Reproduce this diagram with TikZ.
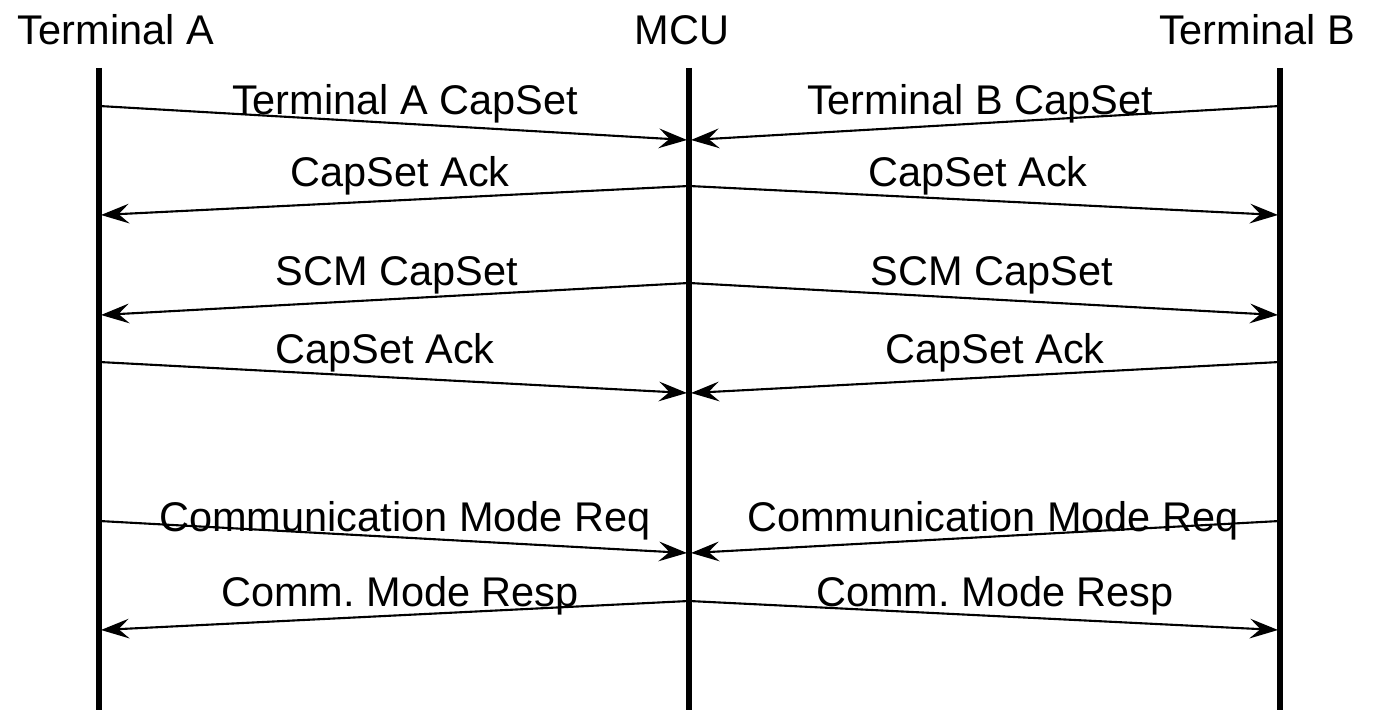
\documentclass[tikz,border=0pt]{standalone}
\usepackage{fontspec}
\setmainfont{Liberation Sans}
\usetikzlibrary{arrows.meta}
\frenchspacing
\begin{document}
\begin{tikzpicture}[x=0.01cm,y=-0.01cm,
  lbl/.style={font=\fontsize{11.8pt}{14pt}\selectfont,anchor=base,inner sep=0pt},
  life/.style={line width=1.5pt},
  msg/.style={line width=0.6pt,-{Stealth[length=8pt,width=5.6pt,inset=3pt]}}]
\useasboundingbox (0,0) rectangle (1378,710);
% headers
\node[lbl] (hA) at (116,45) {Terminal A};
\node[lbl] (hM) at (682,45) {MCU};
\node[lbl] (hB) at (1257,45) {Terminal B};
% lifelines
\coordinate (At) at (99,68);  \coordinate (Ab) at (99,710);
\coordinate (Mt) at (689,68); \coordinate (Mb) at (689,710);
\coordinate (Bt) at (1280,68);\coordinate (Bb) at (1280,710);
\draw[life] (At) -- (Ab);
\draw[life] (Mt) -- (Mb);
\draw[life] (Bt) -- (Bb);
% message end points
\coordinate (a1) at (99,106);  \coordinate (m1l) at (687,140); \coordinate (m1r) at (691,140); \coordinate (b1) at (1280,106);
\coordinate (m2) at (689,186); \coordinate (a2) at (101,215);  \coordinate (b2) at (1278,215);
\coordinate (m3) at (689,283); \coordinate (a3) at (101,315);  \coordinate (b3) at (1278,315);
\coordinate (a4) at (99,362);  \coordinate (m4l) at (687,393); \coordinate (m4r) at (691,393); \coordinate (b4) at (1280,362);
\coordinate (a5) at (99,521);  \coordinate (m5l) at (687,553); \coordinate (m5r) at (691,553); \coordinate (b5) at (1280,521);
\coordinate (m6) at (689,601); \coordinate (a6) at (101,630);  \coordinate (b6) at (1278,630);
% messages
\draw[msg] (a1) -- (m1l);
\draw[msg] (b1) -- (m1r);
\draw[msg] (m2) -- (a2);
\draw[msg] (m2) -- (b2);
\draw[msg] (m3) -- (a3);
\draw[msg] (m3) -- (b3);
\draw[msg] (a4) -- (m4l);
\draw[msg] (b4) -- (m4r);
\draw[msg] (a5) -- (m5l);
\draw[msg] (b5) -- (m5r);
\draw[msg] (m6) -- (a6);
\draw[msg] (m6) -- (b6);
% labels
\node[lbl] (l1a) at (405,115) {Terminal A CapSet};
\node[lbl] (l1b) at (980,115) {Terminal B CapSet};
\node[lbl] (l2a) at (400,187) {CapSet Ack};
\node[lbl] (l2b) at (978,187) {CapSet Ack};
\node[lbl] (l3a) at (397,286) {SCM CapSet};
\node[lbl] (l3b) at (992,286) {SCM CapSet};
\node[lbl] (l4a) at (385,364) {CapSet Ack};
\node[lbl] (l4b) at (995,364) {CapSet Ack};
\node[lbl] (l5a) at (405,532) {Communication Mode Req};
\node[lbl] (l5b) at (993,532) {Communication Mode Req};
\node[lbl] (l6a) at (400,607) {Comm. Mode Resp};
\node[lbl] (l6b) at (995,607) {Comm. Mode Resp};
\end{tikzpicture}
\end{document}
